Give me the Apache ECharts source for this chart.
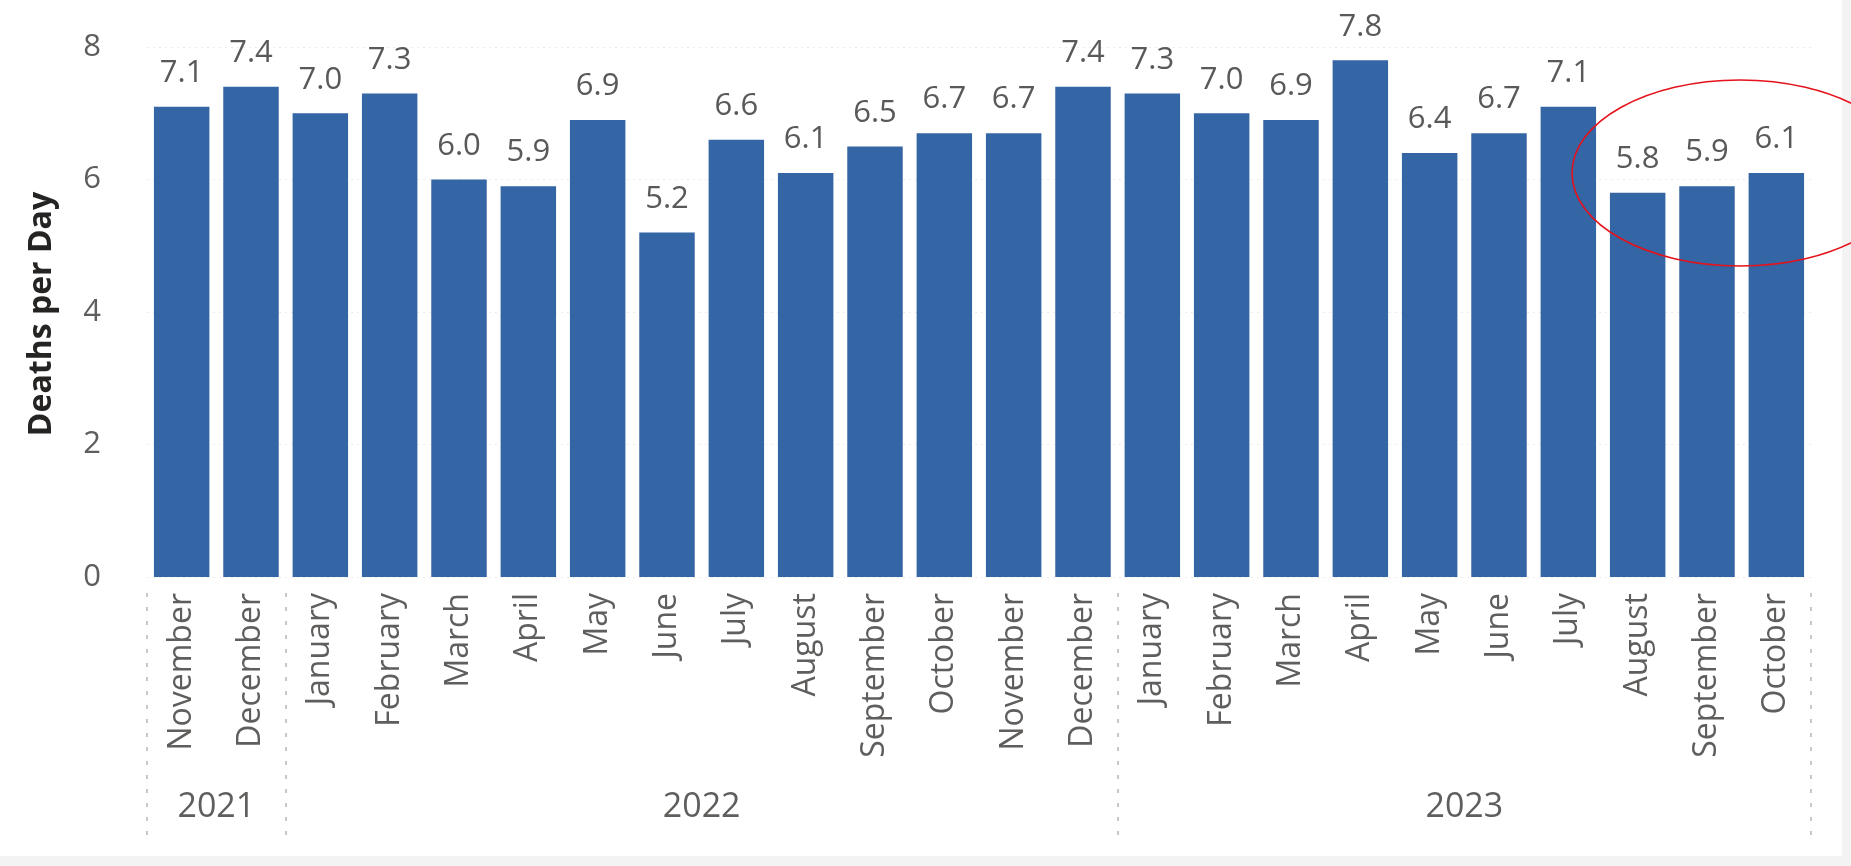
<!DOCTYPE html>
<html>
<head>
<meta charset="utf-8">
<script src="https://cdn.jsdelivr.net/npm/echarts@6/dist/echarts.min.js"></script>
<style>
html,body{margin:0;padding:0;background:#fff;}
#main{width:1851px;height:866px;}
</style>
</head>
<body>
<div id="main"></div>
<script>
const months = ['November','December',
  'January','February','March','April','May','June','July','August','September','October','November','December',
  'January','February','March','April','May','June','July','August','September','October'];
const values = [7.1,7.4,
  7.0,7.3,6.0,5.9,6.9,5.2,6.6,6.1,6.5,6.7,6.7,7.4,
  7.3,7.0,6.9,7.8,6.4,6.7,7.1,5.8,5.9,6.1];
const years = ['2021','2022','2023'];
const yearCounts = [2,12,10];
const yTicks = [0,2,4,6,8];

// derived group boundaries and centres (in category units)
const boundaries = [0];
const centres = [];
let acc = 0;
yearCounts.forEach(c => { centres.push(acc + c/2); acc += c; boundaries.push(acc); });

const FONT = "'Segoe UI','Open Sans','Noto Sans',sans-serif";
const chart = echarts.init(document.getElementById('main'), null, {renderer:'canvas'});

const option = {
  backgroundColor: '#ffffff',
  animation: false,
  grid: {left:147, right:40, top:47, bottom:289, containLabel:false},
  xAxis: [
    {
      type:'category', data: months, position:'bottom',
      axisLine:{show:false}, axisTick:{show:false},
      axisLabel:{rotate:90, interval:0, margin:16, color:'#605E5C', fontSize:32, fontFamily:FONT}
    },
    {
      type:'value', min:0, max:months.length, position:'bottom', offset:16,
      axisLine:{show:false}, splitLine:{show:false},
      axisTick:{show:true, customValues: boundaries, length:246, inside:false,
        lineStyle:{color:'#c8c8c8', width:2, type:[4,10]}},
      axisLabel:{customValues: centres, margin:197, color:'#605E5C', fontSize:34, fontFamily:FONT,
        formatter: v => { const i = centres.indexOf(v); return i >= 0 ? years[i] : ''; }}
    }
  ],
  yAxis: {
    type:'value', min:yTicks[0], max:yTicks[yTicks.length-1], interval:2,
    axisLine:{show:false}, axisTick:{show:false},
    axisLabel:{margin:46, color:'#605E5C', fontSize:31, fontFamily:FONT},
    splitLine:{show:true, lineStyle:{color:'#ececec', type:[2,4], width:1}}
  },
  series: [{
    type:'bar', data: values, xAxisIndex:0, yAxisIndex:0,
    barCategoryGap:'20%',
    itemStyle:{color:'#3465a4'},
    label:{show:true, position:'top', distance:18, color:'#595959', fontSize:31, fontFamily:FONT,
      formatter: p => p.value.toFixed(1)}
  }],
  graphic: [
    {type:'rect', shape:{x:0, y:856, width:1851, height:10}, style:{fill:'#f3f3f3'}, silent:true},
    {type:'rect', shape:{x:1842, y:0, width:9, height:866}, style:{fill:'#f3f3f3'}, silent:true},
    {type:'text', x:42, y:314, rotation:Math.PI/2,
      style:{text:'Deaths per Day', font:"bold 32px " + FONT, fill:'#252423', align:'center', verticalAlign:'middle'}},
    {type:'ellipse', shape:{cx:1740, cy:173, rx:168, ry:93}, z:100,
      style:{fill:'none', stroke:'#e5121b', lineWidth:1.6}}
  ]
};
chart.setOption(option);
</script>
</body>
</html>
